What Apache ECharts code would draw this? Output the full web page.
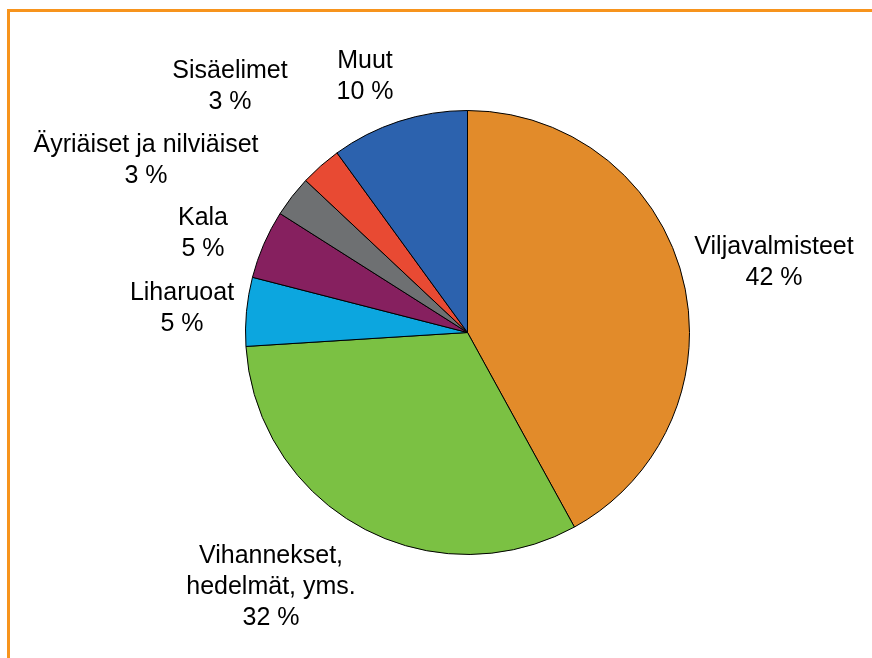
<!DOCTYPE html>
<html>
<head>
<meta charset="utf-8">
<script src="https://cdn.jsdelivr.net/npm/echarts@6/dist/echarts.min.js"></script>
<style>
  html, body { margin: 0; padding: 0; background: #fff; }
  #chart { width: 872px; height: 658px; }
</style>
</head>
<body>
<div id="chart"></div>
<script>
// ruokaryhmät, myötäpäivään klo 12:sta
const categories = ['Viljavalmisteet', 'Vihannekset,\nhedelmät, yms.', 'Liharuoat', 'Kala', 'Äyriäiset ja nilviäiset', 'Sisäelimet', 'Muut']
const shares = [42, 32, 5, 5, 3, 3, 10]
const colors = ['#E28B2A', '#7BC143', '#0CA6DF', '#86205F', '#6E7072', '#E84A33', '#2C62AE']

// tekstien keskipisteet (px)
const labelPos = [[774, 263], [271, 587], [182, 309], [203, 234], [146, 161], [230, 87], [365, 77]]

const chart = echarts.init(document.getElementById('chart'))
chart.setOption({
    animation: false,
    graphic: [
        // oranssi kehys ylä- ja vasemmassa reunassa
        { type: 'line', shape: { x1: 7, y1: 10.5, x2: 872, y2: 10.5 }, style: { stroke: '#F7941D', lineWidth: 3 } },
        { type: 'line', shape: { x1: 8.5, y1: 9, x2: 8.5, y2: 658 }, style: { stroke: '#F7941D', lineWidth: 3 } },
    ],
    series: [
        {
            type: 'pie',
            center: [467.5, 332.5],
            radius: 222,
            startAngle: 90,
            clockwise: true,
            itemStyle: {
                borderColor: '#000',
                borderWidth: 1,
            },
            label: {
                show: true,
                position: 'outside',
                formatter: '{b}\n{c} %',
                color: '#000',
                fontFamily: 'Liberation Sans, Arial, sans-serif',
                fontSize: 25,
                lineHeight: 31,
                align: 'center',
                overflow: 'none',
            },
            labelLine: { show: false },
            labelLayout: function (params) {
                const p = labelPos[params.dataIndex]
                return { x: p[0], y: p[1], align: 'center', verticalAlign: 'middle' }
            },
            emphasis: { disabled: true },
            data: categories.map((name, i) => ({
                name: name,
                value: shares[i],
                itemStyle: { color: colors[i] },
            })),
        },
    ],
})
</script>
</body>
</html>
